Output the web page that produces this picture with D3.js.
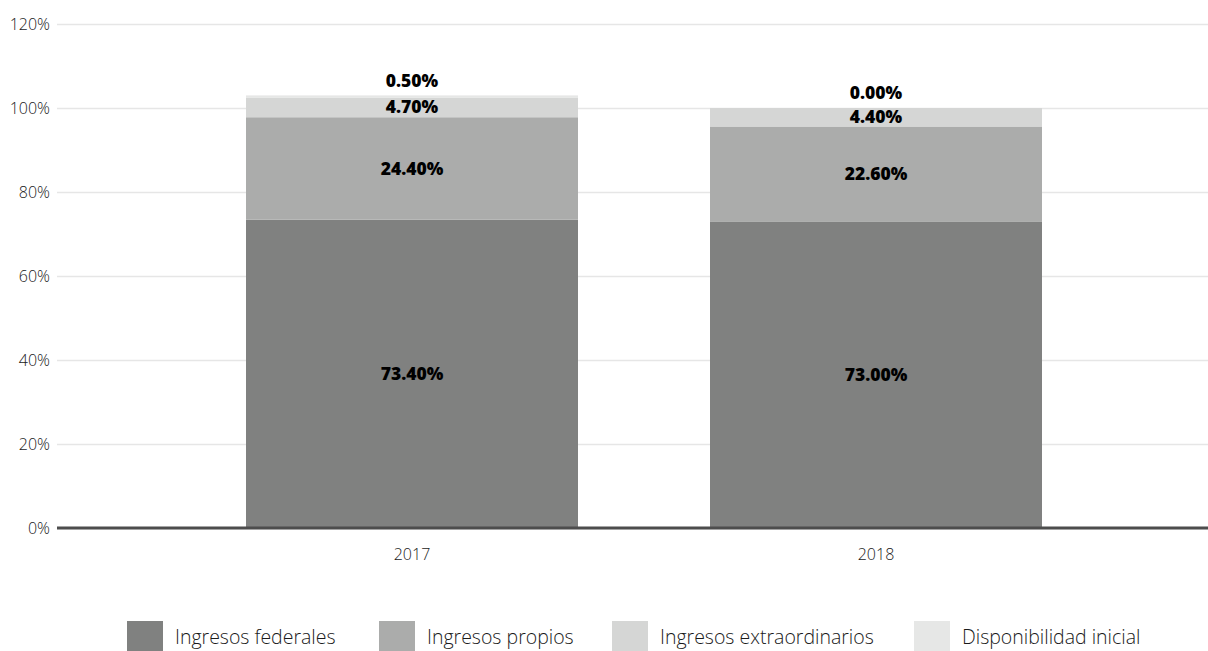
<!DOCTYPE html>
<html>
<head>
<meta charset="utf-8">
<script src="https://cdn.jsdelivr.net/npm/d3@7"></script>
<style>
  html, body { margin: 0; padding: 0; background: #fff; }
  svg { display: block; }
</style>
</head>
<body>
<svg id="chart" width="1208" height="651"></svg>
<script>
// Years on the x axis
const years = ["2017", "2018"];
// Series names (stacked from bottom to top)
const seriesNames = ["Ingresos federales", "Ingresos propios", "Ingresos extraordinarios", "Disponibilidad inicial"];
// Share of income per year, in percent
const federales = [73.4, 73.0];
const propios = [24.4, 22.6];
const extraordinarios = [4.7, 4.4];
const disponibilidad = [0.5, 0.0];
// Y axis ticks
const yTicks = [0, 20, 40, 60, 80, 100, 120];

const colors = ["#808180", "#abacab", "#d5d6d5", "#e6e7e6"];

const rows = years.map((y, i) => ({
  year: y,
  "Ingresos federales": federales[i],
  "Ingresos propios": propios[i],
  "Ingresos extraordinarios": extraordinarios[i],
  "Disponibilidad inicial": disponibilidad[i]
}));

const svg = d3.select("#chart");
const lightFont = "'Open Sans', Lato, sans-serif";
const boldFont = "'Open Sans', Lato, sans-serif";

const x = d3.scaleBand()
  .domain(years)
  .range([180, 1108])
  .paddingInner(0.2845)
  .paddingOuter(0.14225);

const y = d3.scaleLinear().domain([0, 120]).range([528, 24]);

// Gridlines + tick labels
const yAxis = d3.axisLeft(y)
  .tickValues(yTicks)
  .tickFormat(d => d + "%")
  .tickSize(-(1208 - 57))
  .tickPadding(7);

const gy = svg.append("g")
  .attr("transform", "translate(57,0)")
  .call(yAxis);
gy.select(".domain").remove();
gy.selectAll(".tick line")
  .attr("stroke", "#e6e6e6")
  .attr("stroke-width", 1.5);
gy.selectAll(".tick text")
  .attr("font-family", lightFont)
  .attr("font-weight", 300)
  .attr("font-size", 16)
  .attr("fill", "#1a1a1a");

// Stacked bars
const stack = d3.stack().keys(seriesNames);
const layers = stack(rows);

const gBars = svg.append("g");
layers.forEach((layer, li) => {
  gBars.selectAll(null)
    .data(layer)
    .enter()
    .append("rect")
    .attr("x", d => x(d.data.year))
    .attr("width", x.bandwidth())
    .attr("y", d => y(d[1]))
    .attr("height", d => y(d[0]) - y(d[1]))
    .attr("fill", colors[li]);
});

// Value labels: centered in each segment; the top series sits above the bar
const gLabels = svg.append("g")
  .attr("font-family", boldFont)
  .attr("font-weight", 800)
  .attr("font-size", 17.5)
  .attr("fill", "#000")
  .attr("text-anchor", "middle");

layers.forEach((layer, li) => {
  const isTop = li === layers.length - 1;
  gLabels.selectAll(null)
    .data(layer)
    .enter()
    .append("text")
    .attr("x", d => x(d.data.year) + x.bandwidth() / 2)
    .attr("y", d => isTop ? y(d[1]) - 15 : (y(d[0]) + y(d[1])) / 2)
    .attr("dy", "0.35em")
    .text(d => (d[1] - d[0]).toFixed(2) + "%");
});

// Baseline
svg.append("line")
  .attr("x1", 57).attr("x2", 1208)
  .attr("y1", y(0)).attr("y2", y(0))
  .attr("stroke", "#4d4d4d")
  .attr("stroke-width", 3);

// X axis labels
const xAxis = d3.axisBottom(x).tickSize(0).tickPadding(21);
const gx = svg.append("g")
  .attr("transform", `translate(0,${y(0)})`)
  .call(xAxis);
gx.select(".domain").remove();
gx.selectAll(".tick text")
  .attr("font-family", lightFont)
  .attr("font-weight", 300)
  .attr("font-size", 16)
  .attr("fill", "#1a1a1a");

// Legend
const legendX = [127, 379, 612, 914];
const legend = svg.append("g");
seriesNames.forEach((name, i) => {
  const g = legend.append("g").attr("transform", `translate(${legendX[i]},621)`);
  g.append("rect")
    .attr("width", 36).attr("height", 30)
    .attr("fill", colors[i]);
  g.append("text")
    .attr("x", 48).attr("y", 16)
    .attr("dy", "0.35em")
    .attr("font-family", lightFont)
    .attr("font-weight", 300)
    .attr("font-size", 19.5)
    .attr("fill", "#1a1a1a")
    .text(name);
});
</script>
</body>
</html>
